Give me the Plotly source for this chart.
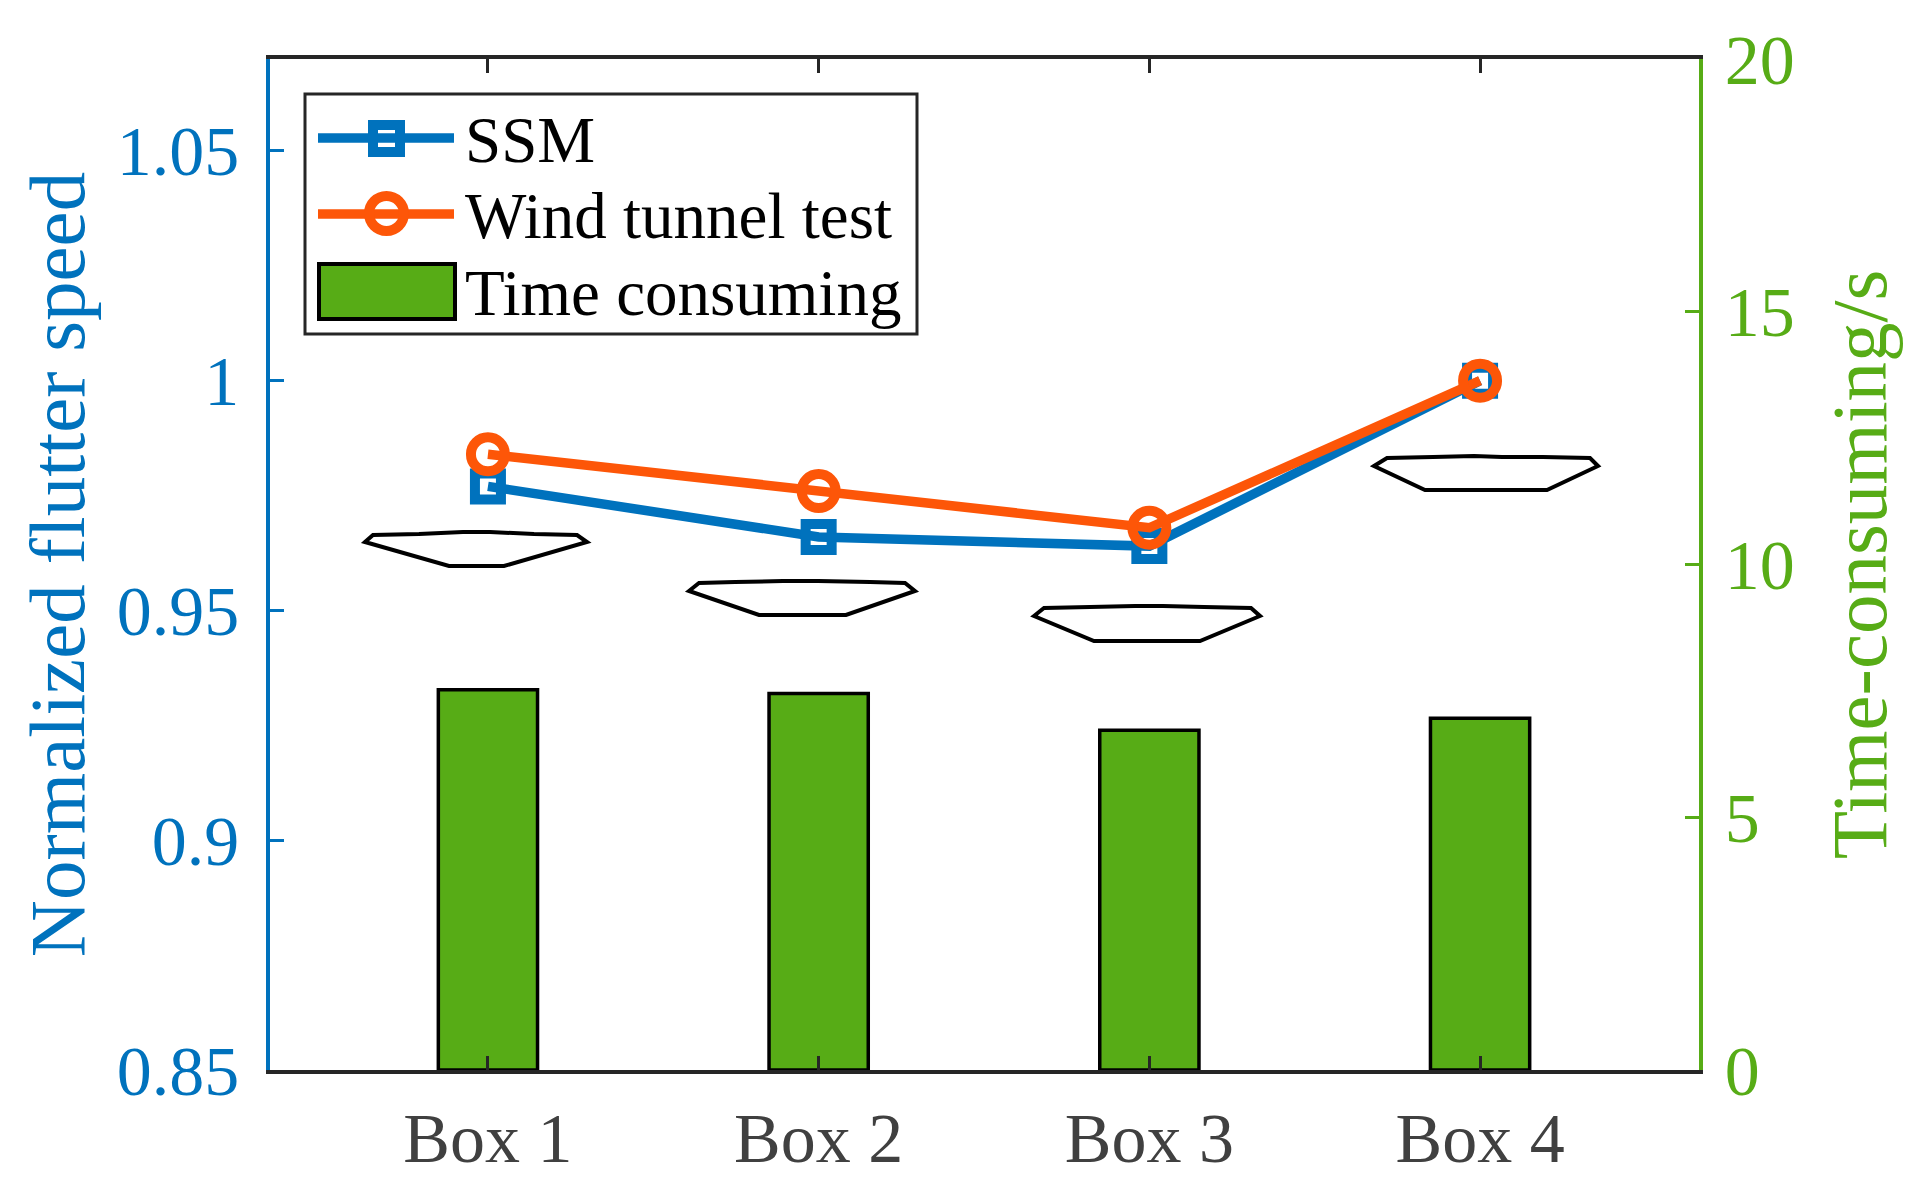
import plotly.graph_objects as go

# ---- data ----
boxes = ["Box 1", "Box 2", "Box 3", "Box 4"]
ssm = [0.977, 0.966, 0.964, 1.0]
wind_tunnel = [0.984, 0.976, 0.968, 1.0]
time_consuming = [7.52, 7.45, 6.72, 6.96]

left_ticks = [0.85, 0.9, 0.95, 1.0, 1.05]
left_labels = ["0.85", "0.9", "0.95", "1", "1.05"]
right_ticks = [0, 5, 10, 15, 20]

# box cross-section outlines drawn above the bars (page pixels)
profile_1 = [(365, 542), (373, 535), (419, 534), (463, 532), (490, 532), (534, 534), (577, 535), (587, 542), (504, 566), (449, 566)]
profile_2 = [(689, 591), (699, 583), (735, 582), (783, 581), (818, 581), (870, 582), (905, 583), (915, 591), (846, 615), (759, 615)]
profile_3 = [(1034, 616), (1044, 608), (1090, 607), (1135, 606), (1163, 606), (1204, 607), (1251, 608), (1260, 616), (1200, 641), (1094, 641)]
profile_4 = [(1374, 466), (1387, 458), (1433, 457), (1474, 456), (1502, 457), (1543, 457), (1590, 458), (1598, 466), (1547, 490), (1425, 490)]

# ---- style ----
BLUE = "#0072BD"
ORANGE = "#FD5608"
GREEN = "#57AC16"
DARK = "#262626"
FONT = "Liberation Serif"
W, H = 1914, 1194
L, R, T, B = 270, 1699, 59, 1070


def px(x):
    return (x - L) / (R - L)


def py(y):
    return (B - y) / (B - T)


fig = go.Figure()
fig.add_trace(go.Bar(
    x=boxes, y=time_consuming, name="Time consuming", width=0.3,
    marker=dict(color=GREEN, line=dict(color="black", width=3.5)), showlegend=False))
fig.add_trace(go.Scatter(
    x=boxes, y=ssm, yaxis="y2", name="SSM", mode="lines+markers",
    line=dict(color=BLUE, width=9.5),
    marker=dict(symbol="square-open", size=26, color=BLUE, line=dict(color=BLUE, width=10)),
    showlegend=False))
fig.add_trace(go.Scatter(
    x=boxes, y=wind_tunnel, yaxis="y2", name="Wind tunnel test", mode="lines+markers",
    line=dict(color=ORANGE, width=9.5),
    marker=dict(symbol="circle-open", size=34, color=ORANGE, line=dict(color=ORANGE, width=10)),
    showlegend=False))

shapes = []
for prof in (profile_1, profile_2, profile_3, profile_4):
    path = "M " + " L ".join(f"{px(a):.5f} {py(b):.5f}" for a, b in prof) + " Z"
    shapes.append(dict(type="path", xref="paper", yref="paper", path=path, layer="above",
                       line=dict(color="black", width=4)))


def rect(x0, y0, x1, y1, **kw):
    shapes.append(dict(type="rect", xref="paper", yref="paper", x0=px(x0), x1=px(x1),
                       y0=py(y0), y1=py(y1), layer="above", **kw))


# hand-built legend, sized as in the reference
rect(305, 94, 917, 334, line=dict(color=DARK, width=3), fillcolor="white")
for y, col in ((138, BLUE), (214, ORANGE)):
    shapes.append(dict(type="line", xref="paper", yref="paper", x0=px(318), x1=px(454),
                       y0=py(y), y1=py(y), layer="above", line=dict(color=col, width=9.5)))
rect(373, 125, 400, 152, line=dict(color=BLUE, width=10))
shapes.append(dict(type="circle", xref="paper", yref="paper", x0=px(369), x1=px(404),
                   y0=py(196), y1=py(231), layer="above", line=dict(color=ORANGE, width=10)))
rect(319, 264, 455, 319, line=dict(color="black", width=4), fillcolor=GREEN)

annotations = [
    dict(text=t, x=px(463), y=py(y), xref="paper", yref="paper", xanchor="left", yanchor="middle",
         showarrow=False, font=dict(family=FONT, size=65, color="black"))
    for t, y in (("SSM", 140), ("Wind tunnel test", 216), ("Time consuming", 293))
]

fig.update_layout(
    width=W, height=H, margin=dict(l=L, r=W - R, t=T, b=H - B, autoexpand=False),
    paper_bgcolor="white", plot_bgcolor="white", font=dict(family=FONT),
    shapes=shapes, annotations=annotations, bargap=0.7,
    xaxis=dict(type="category", range=[-0.659, 3.662], showgrid=False, zeroline=False,
               automargin=False,
               showline=True, linecolor=DARK, linewidth=3.5, mirror="ticks",
               ticks="inside", ticklen=14, tickwidth=3, tickcolor=DARK,
               tickfont=dict(family=FONT, size=70, color="#404040"), ticklabelstandoff=4),
    yaxis=dict(side="right", range=[0, 20], tickvals=right_ticks, showgrid=False, zeroline=False,
               automargin=False,
               showline=True, linecolor=GREEN, linewidth=3.5, ticks="inside", ticklen=14,
               tickwidth=3, tickcolor=GREEN, tickfont=dict(family=FONT, size=70, color=GREEN),
               ticklabelstandoff=8,
               title=dict(text="Time-consuming/s", standoff=38,
                          font=dict(family=FONT, size=79, color=GREEN))),
    yaxis2=dict(side="left", overlaying="y", range=[0.85, 1.07], tickvals=left_ticks,
                ticktext=left_labels, showgrid=False, zeroline=False, showline=True,
                automargin=False,
                linecolor=BLUE, linewidth=3.5, ticks="inside", ticklen=14, tickwidth=3,
                tickcolor=BLUE, tickfont=dict(family=FONT, size=70, color=BLUE),
                ticklabelstandoff=13,
                title=dict(text="Normalized flutter speed", standoff=7,
                           font=dict(family=FONT, size=79, color=BLUE))),
)

fig.write_html("out.html", config={"displayModeBar": False},
               post_script="document.body.style.margin='0';document.body.style.overflow='hidden';")
